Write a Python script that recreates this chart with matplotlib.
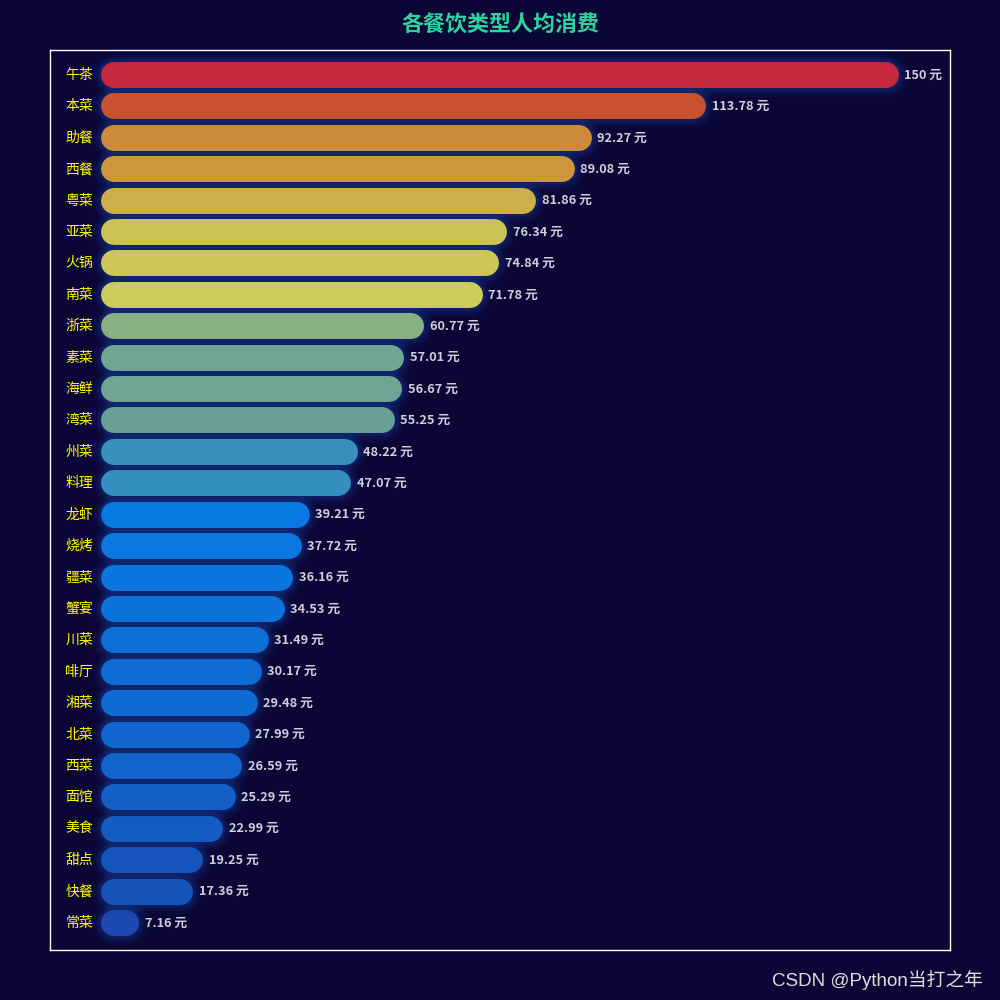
import matplotlib
matplotlib.use('Agg')
import matplotlib.pyplot as plt

plt.rcParams['font.family'] = ['Noto Sans CJK SC', 'DejaVu Sans']

# 数据
categories = ['午茶', '本菜', '助餐', '西餐', '粤菜', '亚菜', '火锅', '南菜', '浙菜', '素菜',
              '海鲜', '湾菜', '州菜', '料理', '龙虾', '烧烤', '疆菜', '蟹宴', '川菜', '啡厅',
              '湘菜', '北菜', '西菜', '面馆', '美食', '甜点', '快餐', '常菜']
values = [150, 113.78, 92.27, 89.08, 81.86, 76.34, 74.84, 71.78, 60.77, 57.01,
          56.67, 55.25, 48.22, 47.07, 39.21, 37.72, 36.16, 34.53, 31.49, 30.17,
          29.48, 27.99, 26.59, 25.29, 22.99, 19.25, 17.36, 7.16]
bar_colors = ['#c5283f', '#c9522e', '#cc8a3a', '#cc963c', '#cdae48', '#cbc254', '#cdc657', '#cccc5a',
              '#88b084', '#6fa792', '#6fa592', '#68a096', '#3a90bc', '#358fc1', '#0779e0', '#0a78e0',
              '#0a76de', '#0b73da', '#0f6fd8', '#0e6cd4', '#0f6ad2', '#1066ce', '#1264ca', '#1460c6',
              '#145bc2', '#1656bc', '#1754ba', '#1c4ab2']

bg = '#0c0636'

fig = plt.figure(figsize=(10, 10), dpi=100, facecolor=bg)
ax = fig.add_axes([0.05, 0.05, 0.9, 0.9], facecolor=bg)

n = len(categories)
ys = list(range(n))

# 圆角柱子: 用圆头粗线画, 半径约 2.44 个数据单位
bar_lw = 18.7
r = 2.44
left = [r] * n
right = [max(v - r, r) for v in values]

# 发光阴影
for extra, a in [(12, 0.07), (8, 0.10), (4, 0.14)]:
    ax.hlines(ys, left, right, colors='#1a55c0', linewidth=bar_lw + extra,
              alpha=a, capstyle='round', zorder=1)
ax.hlines(ys, left, right, colors=bar_colors, linewidth=bar_lw,
          capstyle='round', zorder=2)

for i, (cat, v) in enumerate(zip(categories, values)):
    ax.text(-1.5, i, cat, ha='right', va='center', color='#ffff00', fontsize=10)
    ax.annotate(f'{v:g} 元', (v, i), xytext=(4, 0), textcoords='offset points',
                ha='left', va='center', color='#cfcfdc', fontsize=9.2, fontweight='bold')

ax.set_xlim(-9.59, 159.6)
ax.set_ylim(27.86, -0.796)
ax.set_xticks([])
ax.set_yticks([])
for s in ax.spines.values():
    s.set_color('white')
    s.set_linewidth(1)

fig.text(0.5, 0.975, '各餐饮类型人均消费', ha='center', va='center',
         color='#2ed3a0', fontsize=15.8, fontweight='bold')
fig.text(0.983, 0.02, 'CSDN @Python当打之年', ha='right', va='center',
         color='#dddddd', fontsize=13.5, family=['Liberation Sans', 'Noto Sans CJK SC'])

fig.savefig('out.png', dpi=100, facecolor=bg)
